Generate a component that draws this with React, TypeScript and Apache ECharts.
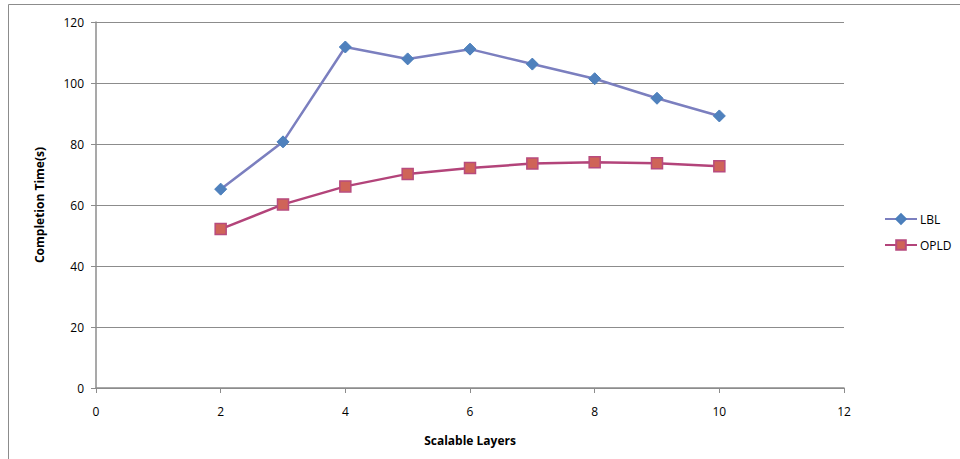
import React, { useEffect, useRef } from "react";
import * as echarts from "echarts";

const xValues = [2, 3, 4, 5, 6, 7, 8, 9, 10];
const lblValues = [65.2, 80.7, 111.8, 107.9, 111.1, 106.2, 101.4, 95.0, 89.2];
const opldValues = [52.1, 60.2, 66.1, 70.2, 72.1, 73.6, 74.0, 73.7, 72.7];

export default function App() {
  const ref = useRef<HTMLDivElement>(null);
  useEffect(() => {
    document.body.style.margin = "0";
    const chart = echarts.init(ref.current!, null, { renderer: "svg" });
    const font = "'Open Sans', 'Noto Sans', sans-serif";
    chart.setOption({
      animation: false,
      backgroundColor: "#ffffff",
      textStyle: { fontFamily: font },
      graphic: [
        {
          type: "rect",
          shape: { x: 8.5, y: 4.5, width: 1000, height: 500 },
          style: { fill: "none", stroke: "#8c8c8c", lineWidth: 1 },
          silent: true,
        },
      ],
      grid: { left: 96, right: 116, top: 22, bottom: 71, containLabel: false },
      legend: {
        orient: "vertical",
        left: 879,
        top: 208,
        itemWidth: 32,
        itemHeight: 12,
        itemGap: 14,
        textStyle: { fontFamily: font, fontSize: 12, color: "#000", padding: [0, 0, 0, -2] },
        data: ["LBL", "OPLD"],
      },
      xAxis: {
        type: "value",
        min: 0,
        max: 12,
        interval: 2,
        name: "Scalable Layers",
        nameLocation: "middle",
        nameGap: 46,
        nameTextStyle: { fontFamily: font, fontSize: 12, fontWeight: "bold", color: "#000" },
        axisLine: { show: true, lineStyle: { color: "#8c8c8c", width: 1.5 } },
        axisTick: { show: true, inside: false, length: 5, lineStyle: { color: "#8c8c8c" } },
        axisLabel: { fontFamily: font, fontSize: 12, color: "#000", margin: 17 },
        splitLine: { show: false },
      },
      yAxis: {
        type: "value",
        min: 0,
        max: 120,
        interval: 20,
        name: "Completion Time(s)",
        nameLocation: "middle",
        nameGap: 51,
        nameTextStyle: { fontFamily: font, fontSize: 12, fontWeight: "bold", color: "#000" },
        axisLine: { show: true, lineStyle: { color: "#8c8c8c", width: 1.5 } },
        axisTick: { show: true, inside: false, length: 5, lineStyle: { color: "#8c8c8c" } },
        axisLabel: { fontFamily: font, fontSize: 12, color: "#000", margin: 12 },
        splitLine: { show: true, lineStyle: { color: "#8c8c8c", width: 1.2 } },
      },
      series: [
        {
          name: "LBL",
          type: "line",
          data: xValues.map((x, i) => [x, lblValues[i]]),
          symbol: "diamond",
          symbolSize: 12,
          lineStyle: { color: "#7b7fbf", width: 2.5 },
          itemStyle: { color: "#4f81bd", borderColor: "#4a7ebb", borderWidth: 1 },
        },
        {
          name: "OPLD",
          type: "line",
          data: xValues.map((x, i) => [x, opldValues[i]]),
          symbol: "rect",
          symbolSize: 11,
          lineStyle: { color: "#b3447a", width: 2.5 },
          itemStyle: { color: "#cf6458", borderColor: "#b84b7e", borderWidth: 1.5 },
        },
      ],
    });
    return () => chart.dispose();
  }, []);
  return <div ref={ref} style={{ width: 960, height: 459 }} />;
}
